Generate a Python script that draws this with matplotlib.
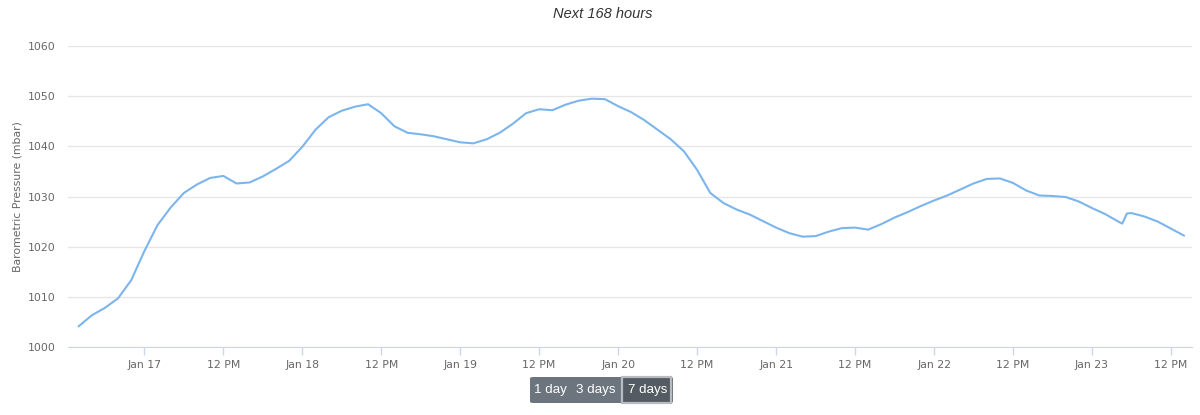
import matplotlib
matplotlib.use("Agg")
import matplotlib.pyplot as plt
from matplotlib.patches import FancyBboxPatch, Rectangle

# hours since Jan 16 00:00
hours = [14, 16, 18, 20, 22, 24, 26, 28, 30, 32, 34, 36, 38, 40, 42, 44, 46, 48,
         50, 52, 54, 56, 58, 60, 62, 64, 66, 68, 70, 72, 74, 76, 78, 80, 82, 84,
         86, 88, 90, 92, 94, 96, 98, 100, 102, 104, 106, 108, 110, 112, 114, 116,
         118, 120, 122, 124, 126, 128, 130, 132, 134, 136, 138, 140, 142, 144, 146,
         148, 150, 152, 154, 156, 158, 160, 162, 164, 166, 168, 170, 172, 172.6,
         173.3, 174, 176, 178, 180, 182]
pressure = [1004.1, 1006.3, 1007.8, 1009.7, 1013.3, 1019.1, 1024.3, 1027.8, 1030.7,
            1032.4, 1033.7, 1034.1, 1032.6, 1032.8, 1034.0, 1035.5, 1037.1, 1039.9,
            1043.3, 1045.8, 1047.1, 1047.9, 1048.4, 1046.6, 1044.0, 1042.7, 1042.4,
            1042.0, 1041.4, 1040.8, 1040.6, 1041.4, 1042.7, 1044.5, 1046.6, 1047.4,
            1047.2, 1048.3, 1049.1, 1049.5, 1049.4, 1048.0, 1046.8, 1045.2, 1043.3,
            1041.4, 1039.0, 1035.3, 1030.7, 1028.7, 1027.4, 1026.4, 1025.1, 1023.8,
            1022.7, 1022.0, 1022.1, 1023.0, 1023.7, 1023.8, 1023.4, 1024.5, 1025.8,
            1026.9, 1028.1, 1029.2, 1030.2, 1031.4, 1032.6, 1033.5, 1033.6, 1032.7,
            1031.2, 1030.2, 1030.1, 1029.9, 1029.0, 1027.7, 1026.5, 1025.0, 1024.6,
            1026.6, 1026.7, 1026.0, 1025.0, 1023.6, 1022.2]

tick_hours = [24, 36, 48, 60, 72, 84, 96, 108, 120, 132, 144, 156, 168, 180]
tick_labels = ["Jan 17", "12 PM", "Jan 18", "12 PM", "Jan 19", "12 PM", "Jan 20",
               "12 PM", "Jan 21", "12 PM", "Jan 22", "12 PM", "Jan 23", "12 PM"]
y_ticks = [1000, 1010, 1020, 1030, 1040, 1050, 1060]
buttons = ["1 day", "3 days", "7 days"]

plt.rcParams['font.family'] = ['DejaVu Sans']
W, H = 1200, 415
fig = plt.figure(figsize=(W / 100, H / 100), dpi=100)
L, R, T, B = 68, 1192, 46, 347
ax = fig.add_axes([L / W, 1 - B / H, (R - L) / W, (B - T) / H])

ax.plot(hours, pressure, color="#7cb5ec", lw=1.5, solid_joinstyle="round",
        solid_capstyle="round")
ax.set_xlim(12.4, 183.2)
ax.set_ylim(1000, 1060)
ax.set_yticks(y_ticks)
ax.set_yticklabels([str(v) for v in y_ticks])
ax.set_xticks(tick_hours)
ax.set_xticklabels(tick_labels)
ax.grid(axis="y", color="#e6e6e6", lw=1)
ax.set_axisbelow(True)
for s in ["top", "right", "left"]:
    ax.spines[s].set_visible(False)
ax.spines["bottom"].set_color("#ccd6eb")
ax.tick_params(axis="y", length=0, pad=9, labelsize=7.8, labelcolor="#666666")
ax.tick_params(axis="x", length=6, width=1, color="#ccd6eb", pad=3,
               labelsize=7.8, labelcolor="#666666")
ax.set_ylabel("Barometric Pressure (mbar)", fontsize=7.8, color="#666666", labelpad=4)

fig.text(0.5025, 1 - 14 / H, "Next 168 hours", ha="center", va="center",
         fontsize=10.5, style="italic", color="#333333",
         family=["Liberation Sans", "DejaVu Sans"])

# button group
bx0, bx1, by0, by1 = 530, 673, 377, 403
splits = [530, 570, 622, 673]
def fx(x): return x / W
def fy(y): return 1 - y / H
grp = FancyBboxPatch((fx(bx0), fy(by1)), fx(bx1) - fx(bx0), fy(by0) - fy(by1),
                     boxstyle="round,pad=0,rounding_size=0.003",
                     transform=fig.transFigure, facecolor="#6c757d",
                     edgecolor="none", zorder=5)
fig.patches.append(grp)
sel = Rectangle((fx(splits[2]), fy(by1)), fx(splits[3]) - fx(splits[2]) - 0.002,
                fy(by0) - fy(by1), transform=fig.transFigure,
                facecolor="#545b62", edgecolor="#b8bcc0", lw=1.6, zorder=6)
fig.patches.append(sel)
for i, lab in enumerate(buttons):
    cx = (splits[i] + splits[i + 1]) / 2
    fig.text(fx(cx), fy((by0 + by1) / 2), lab, ha="center", va="center",
             fontsize=9.6, color="white", zorder=7,
             family=["Liberation Sans", "DejaVu Sans"])

fig.savefig("out.png", dpi=100)
